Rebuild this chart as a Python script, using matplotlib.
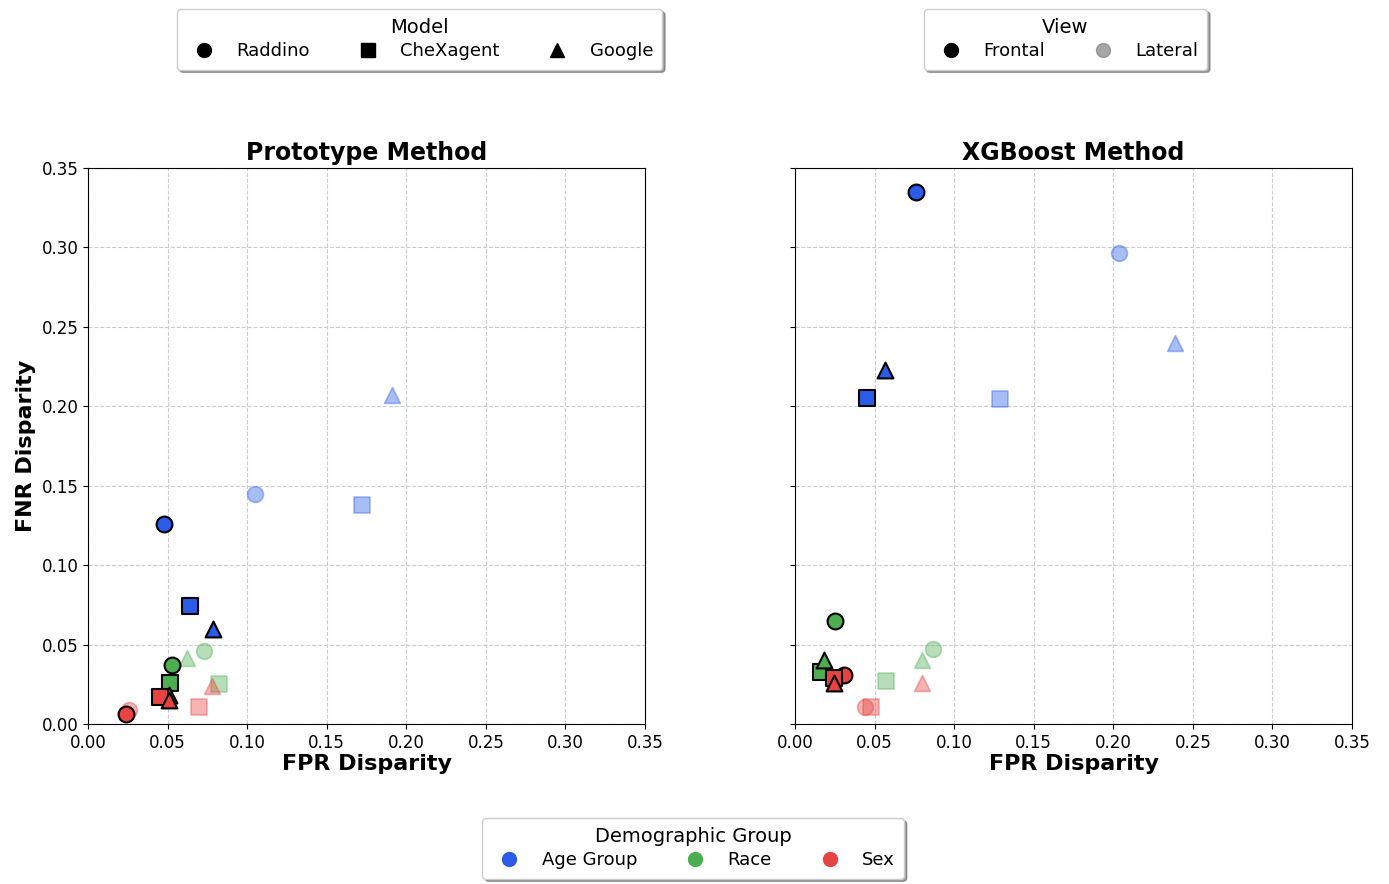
import matplotlib.pyplot as plt
from matplotlib.lines import Line2D

groups = ['Age Group', 'Race', 'Sex']
models = ['Raddino', 'CheXagent', 'Google']
group_colors = {'Age Group': '#2a5ce8', 'Race': '#4cae50', 'Sex': '#e84343'}
model_markers = {'Raddino': 'o', 'CheXagent': 's', 'Google': '^'}

# (FPR, FNR) disparity per group, order: Raddino, CheXagent, Google
proto_frontal_fpr = {'Age Group': [0.048, 0.064, 0.0785], 'Race': [0.053, 0.0515, 0.051], 'Sex': [0.024, 0.045, 0.051]}
proto_frontal_fnr = {'Age Group': [0.126, 0.074, 0.060], 'Race': [0.037, 0.026, 0.018], 'Sex': [0.006, 0.017, 0.015]}
proto_lateral_fpr = {'Age Group': [0.105, 0.172, 0.191], 'Race': [0.073, 0.082, 0.062], 'Sex': [0.026, 0.070, 0.078]}
proto_lateral_fnr = {'Age Group': [0.145, 0.138, 0.207], 'Race': [0.046, 0.025, 0.0415], 'Sex': [0.009, 0.011, 0.024]}

xgb_frontal_fpr = {'Age Group': [0.076, 0.045, 0.0566], 'Race': [0.025, 0.016, 0.018], 'Sex': [0.031, 0.0245, 0.0245]}
xgb_frontal_fnr = {'Age Group': [0.335, 0.205, 0.223], 'Race': [0.065, 0.033, 0.040], 'Sex': [0.031, 0.029, 0.026]}
xgb_lateral_fpr = {'Age Group': [0.2036, 0.129, 0.239], 'Race': [0.0867, 0.057, 0.080], 'Sex': [0.044, 0.048, 0.080]}
xgb_lateral_fnr = {'Age Group': [0.2965, 0.2046, 0.240], 'Race': [0.047, 0.027, 0.040], 'Sex': [0.011, 0.011, 0.026]}

ticks = [0.00, 0.05, 0.10, 0.15, 0.20, 0.25, 0.30, 0.35]


def plot_panel(ax, title, fr_x, fr_y, lat_x, lat_y):
    for g in groups:
        for i, m in enumerate(models):
            ax.scatter(lat_x[g][i], lat_y[g][i], marker=model_markers[m], s=130,
                       color=group_colors[g], alpha=0.4, edgecolors=group_colors[g],
                       linewidths=1.2, zorder=3)
    for g in groups:
        for i, m in enumerate(models):
            ax.scatter(fr_x[g][i], fr_y[g][i], marker=model_markers[m], s=130,
                       color=group_colors[g], edgecolors='black', linewidths=1.5, zorder=4)
    ax.set_xlim(0, 0.35)
    ax.set_ylim(0, 0.35)
    ax.set_xticks(ticks)
    ax.set_yticks(ticks)
    ax.set_xticklabels([f'{t:.2f}' for t in ticks], fontsize=12)
    ax.grid(True, linestyle='--', color='#cccccc', linewidth=0.8)
    ax.set_axisbelow(True)
    ax.set_title(title, fontsize=17, fontweight='bold')
    ax.set_xlabel('FPR Disparity', fontsize=16, fontweight='bold', labelpad=2)


fig = plt.figure(figsize=(13.89, 8.84), dpi=100)
ax1 = fig.add_axes([0.0634, 0.181, 0.401, 0.629])
ax2 = fig.add_axes([0.5724, 0.181, 0.401, 0.629])

plot_panel(ax1, 'Prototype Method', proto_frontal_fpr, proto_frontal_fnr, proto_lateral_fpr, proto_lateral_fnr)
plot_panel(ax2, 'XGBoost Method', xgb_frontal_fpr, xgb_frontal_fnr, xgb_lateral_fpr, xgb_lateral_fnr)
ax1.set_yticklabels([f'{t:.2f}' for t in ticks], fontsize=12)
ax1.set_ylabel('FNR Disparity', fontsize=16, fontweight='bold')
ax2.set_yticklabels([])

model_handles = [Line2D([], [], marker=model_markers[m], color='black', linestyle='', markersize=10) for m in models]
view_handles = [Line2D([], [], marker='o', color='black', linestyle='', markersize=10),
                Line2D([], [], marker='o', color='gray', alpha=0.7, linestyle='', markersize=10)]
group_handles = [Line2D([], [], marker='o', color=group_colors[g], linestyle='', markersize=10) for g in groups]

legend_kw = dict(ncol=3, fontsize=13, title_fontsize=14, shadow=True, frameon=True,
                 columnspacing=2.2, borderpad=0.5, labelspacing=0.3)
fig.legend(model_handles, models, title='Model', loc='upper center',
           bbox_to_anchor=(0.302, 1.0), **legend_kw)
legend_kw['ncol'] = 2
fig.legend(view_handles, ['Frontal', 'Lateral'], title='View', loc='upper center',
           bbox_to_anchor=(0.767, 1.0), **legend_kw)
legend_kw['ncol'] = 3
fig.legend(group_handles, groups, title='Demographic Group', loc='lower center',
           bbox_to_anchor=(0.499, -0.004), **legend_kw)

fig.savefig('out.png', dpi=100)
